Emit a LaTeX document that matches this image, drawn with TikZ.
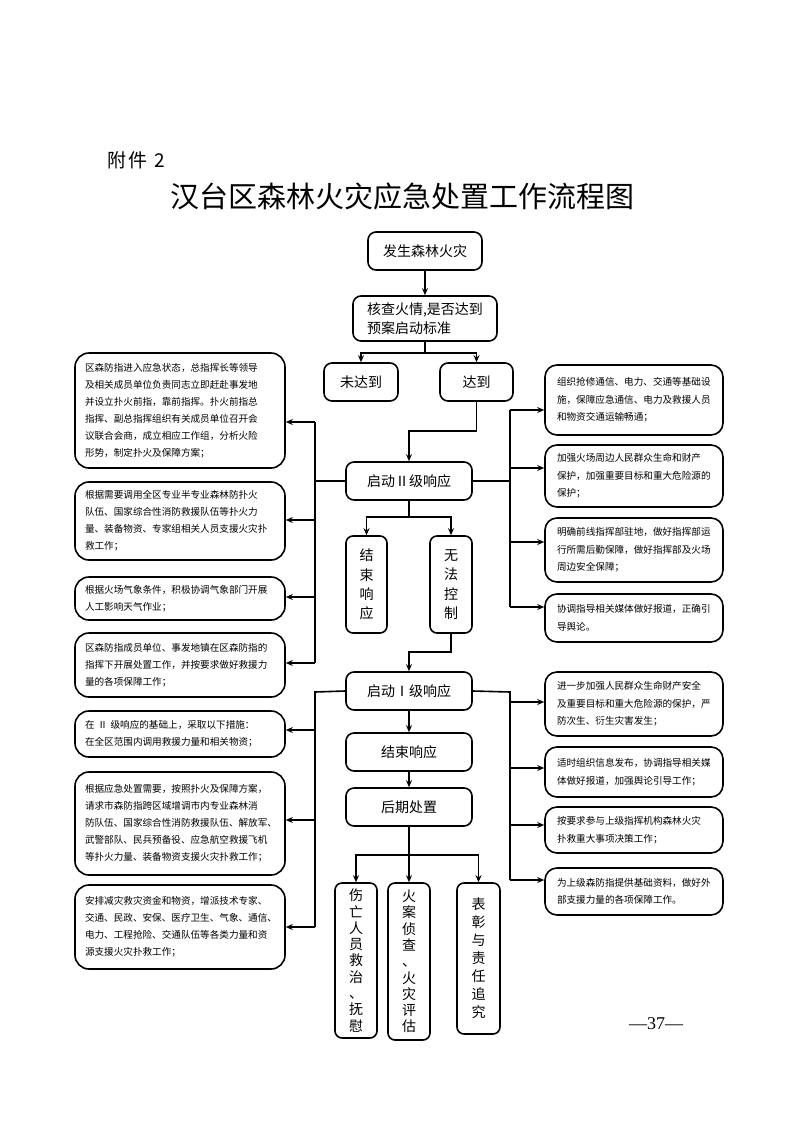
\documentclass[tikz,border=0pt]{standalone}
\usepackage{fontspec}
\newfontfamily\cjk{Noto Sans CJK SC}
\newfontfamily\pnfont{Liberation Serif}
\usetikzlibrary{arrows.meta}

\tikzset{every picture/.style={line width=1.6pt}}
\tikzset{
  box/.style={draw, rounded corners=8pt, minimum width=126pt, minimum height=38pt, inner sep=0pt, font=\cjk\fontsize{14}{18}\selectfont},
  vbox/.style={draw, rounded corners=7pt, align=center, inner sep=0pt, font=\cjk\fontsize{14}{19.3}\selectfont},
  lbox/.style={draw, rounded corners=14pt, text width=190pt, inner xsep=10pt, inner ysep=0pt, align=left, font=\cjk\fontsize{9.6}{17}\selectfont},
  rbox/.style={draw, rounded corners=12pt, text width=154pt, inner xsep=12pt, inner ysep=0pt, align=left, font=\cjk\fontsize{9.6}{17.5}\selectfont},
  arr/.style={-{Stealth[length=7pt,width=6pt]}},
}

\begin{document}
\begin{tikzpicture}[x=1pt,y=1pt,yscale=-1,xscale=1]
\useasboundingbox (0,0) rectangle (793,1122);

% Text Node
\node (annex) at (103,160) [anchor=west, font=\cjk\fontsize{19}{19}\selectfont] {附\hspace{2pt}件\hspace{7pt}2};
% Text Node
\node (title) at (402,196) [font=\cjk\fontsize{29}{29}\selectfont] {汉台区森林火灾应急处置工作流程图};
% Text Node
\node (pgno) at (656,1024) [font=\pnfont\fontsize{18}{18}\selectfont] {—37—};

%Main column
\node (fire) at (425,251) [box, minimum width=114pt] {发生森林火灾};
\node (check) at (425,318.5) [box, minimum width=144pt, minimum height=45pt, text width=116pt, inner xsep=14pt, align=left, font=\cjk\fontsize{14}{19}\selectfont] {核查火情,是否达到\\预案启动标准};
\node (notreach) at (361,382) [box, minimum width=74pt] {未达到};
\node (reach) at (476.5,382) [box, minimum width=73pt] {达到};
\node (lvtwo) at (409,481) [box] {启动Ⅱ级响应};
\node (endtwo) at (366.5,584.5) [vbox, minimum width=41pt, minimum height=97pt] {结\\束\\响\\应};
\node (nocontrol) at (451,584.5) [vbox, minimum width=42pt, minimum height=97pt] {无\\法\\控\\制};
\node (lvone) at (409,691) [box] {启动Ⅰ级响应};
\node (endone) at (409,752) [box] {结束响应};
\node (after) at (409,807) [box] {后期处置};
\node (rescue) at (356,960.5) [vbox, minimum width=42pt, minimum height=155pt, font=\cjk\fontsize{14}{16.3}\selectfont] {伤\\亡\\人\\员\\救\\治\\、\\抚\\慰};
\node (probe) at (409,961.5) [vbox, minimum width=42pt, minimum height=157pt, font=\cjk\fontsize{14}{16.3}\selectfont] {火\\案\\侦\\查\\、\\火\\灾\\评\\估};
\node (award) at (478.5,958.5) [vbox, minimum width=43pt, minimum height=151pt, font=\cjk\fontsize{14}{18}\selectfont] {表\\彰\\与\\责\\任\\追\\究};

%Left boxes
\node (la) at (180,410.5) [lbox, minimum height=115pt] {区森防指进入应急状态，总指挥长等领导\\及相关成员单位负责同志立即赶赴事发地\\并设立扑火前指，靠前指挥。扑火前指总\\指挥、副总指挥组织有关成员单位召开会\\议联合会商，成立相应工作组，分析火险\\形势，制定扑火及保障方案；};
\node (lb) at (180,521) [lbox, minimum height=78pt] {根据需要调用全区专业半专业森林防扑火\\队伍、国家综合性消防救援队伍等扑火力\\量、装备物资、专家组相关人员支援火灾扑\\救工作；};
\node (lc) at (180,598.5) [lbox, minimum height=43pt] {根据火场气象条件，积极协调气象部门开展\\人工影响天气作业；};
\node (ld) at (180,665) [lbox, minimum height=64pt] {区森防指成员单位、事发地镇在区森防指的\\指挥下开展处置工作，并按要求做好救援力\\量的各项保障工作；};
\node (le) at (180,734) [lbox, minimum height=46pt] {在 Ⅱ 级响应的基础上，采取以下措施：\\在全区范围内调用救援力量和相关物资；};
\node (lf) at (180,823.5) [lbox, minimum height=103pt] {根据应急处置需要，按照扑火及保障方案，\\请求市森防指跨区域增调市内专业森林消\\防队伍、国家综合性消防救援队伍、解放军、\\武警部队、民兵预备役、应急航空救援飞机\\等扑火力量、装备物资支援火灾扑救工作；};
\node (lg) at (180,927) [lbox, minimum height=84pt] {安排减灾救灾资金和物资，增派技术专家、\\交通、民政、安保、医疗卫生、气象、通信、\\电力、工程抢险、交通队伍等各类力量和资\\源支援火灾扑救工作；};

%Right boxes
\node (ra) at (634,400) [rbox, minimum height=70pt] {组织抢修通信、电力、交通等基础设\\施，保障应急通信、电力及救援人员\\和物资交通运输畅通；};
\node (rb) at (634,476) [rbox, minimum height=62pt] {加强火场周边人民群众生命和财产\\保护，加强重要目标和重大危险源的\\保护；};
\node (rc) at (634,550) [rbox, minimum height=64pt] {明确前线指挥部驻地，做好指挥部运\\行所需后勤保障，做好指挥部及火场\\周边安全保障；};
\node (rd) at (634,618) [rbox, minimum height=48pt] {协调指导相关媒体做好报道，正确引\\导舆论。};
\node (re) at (634,704) [rbox, minimum height=64pt] {进一步加强人民群众生命财产安全\\及重要目标和重大危险源的保护，严\\防次生、衍生灾害发生；};
\node (rf) at (634,772) [rbox, minimum height=50pt] {适时组织信息发布，协调指导相关媒\\体做好报道，加强舆论引导工作；};
\node (rg) at (634,830) [rbox, minimum height=46pt] {按要求参与上级指挥机构森林火灾\\扑救重大事项决策工作；};
\node (rh) at (634,891.5) [rbox, minimum height=47pt] {为上级森防指提供基础资料，做好外\\部支援力量的各项保障工作。};

%Bends and bus points
\coordinate (splita) at (425,353);
\coordinate (bendb) at (409,431);
\coordinate (splitc) at (409,517);
\coordinate (bendd) at (409,652);
\coordinate (splite) at (409,855);
\coordinate (ltwo) at (315,481);
\coordinate (rtwo) at (510,481);
\coordinate (lone) at (315,692);
\coordinate (rone) at (510,692);
\coordinate (lta) at (315,422);
\coordinate (ltb) at (315,520);
\coordinate (ltc) at (315,597);
\coordinate (ltd) at (315,663);
\coordinate (lte) at (315,730);
\coordinate (ltf) at (315,820);
\coordinate (ltg) at (315,927);
\coordinate (rta) at (510,410);
\coordinate (rtb) at (510,468);
\coordinate (rtc) at (510,542);
\coordinate (rtd) at (510,607);
\coordinate (rte) at (510,702);
\coordinate (rtf) at (510,768);
\coordinate (rtg) at (510,825);
\coordinate (rth) at (510,880);

%Main flow
\draw [arr] (fire) -- (check);
\draw [arr] (check.south) -- (splita) -| (notreach.north);
\draw [arr] (splita) -| (reach.north);
\draw [arr] (reach.south) |- (bendb) -- (lvtwo.north);
\draw [arr] (lvtwo.south) -- (splitc) -| (endtwo.north);
\draw [arr] (splitc) -| (nocontrol.north);
\draw [arr] (nocontrol.south) |- (bendd) -- (lvone.north);
\draw [arr] (lvone) -- (endone);
\draw [arr] (endone) -- (after);
\draw [arr] (after.south) -- (probe.north);
\draw [arr] (splite) -| (rescue.north);
\draw [arr] (splite) -| (award.north);

%Level II buses
\draw (lvtwo.west) -- (ltwo);
\draw (lta) -- (ltd);
\draw [arr] (lta) -- (lta -| la.east);
\draw [arr] (ltb) -- (ltb -| lb.east);
\draw [arr] (ltc) -- (ltc -| lc.east);
\draw [arr] (ltd) -- (ltd -| ld.east);
\draw (lvtwo.east) -- (rtwo);
\draw (rta) -- (rtd);
\draw [arr] (rta) -- (rta -| ra.west);
\draw [arr] (rtb) -- (rtb -| rb.west);
\draw [arr] (rtc) -- (rtc -| rc.west);
\draw [arr] (rtd) -- (rtd -| rd.west);

%Level I buses
\draw (lvone.west) -- (lone) -- (ltg);
\draw [arr] (lte) -- (lte -| le.east);
\draw [arr] (ltf) -- (ltf -| lf.east);
\draw [arr] (ltg) -- (ltg -| lg.east);
\draw (lvone.east) -- (rone) -- (rth);
\draw [arr] (rte) -- (rte -| re.west);
\draw [arr] (rtf) -- (rtf -| rf.west);
\draw [arr] (rtg) -- (rtg -| rg.west);
\draw [arr] (rth) -- (rth -| rh.west);

\end{tikzpicture}
\end{document}
